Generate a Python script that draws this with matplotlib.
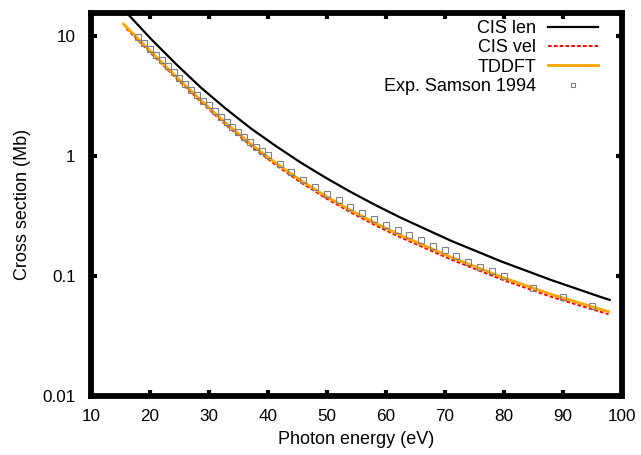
import numpy as np
import matplotlib
matplotlib.use("Agg")
import matplotlib.pyplot as plt

plt.rcParams['font.family'] = ['Liberation Sans', 'DejaVu Sans']

# CIS len (black)
e_len = [16.4, 20.1, 24.4, 28.6, 32.9, 37.1, 41.4, 45.6, 49.9, 54.1, 58.4, 62.6, 71.1, 79.6, 88.1, 96.6, 98.0]
s_len = [14.95, 9.53, 5.85, 3.73, 2.47, 1.70, 1.206, 0.880, 0.655, 0.500, 0.3865, 0.305, 0.1963, 0.1322, 0.0924, 0.0665, 0.0632]

# CIS vel (red dashed)
e_vel = [16.0, 20.1, 24.4, 28.6, 32.9, 37.1, 41.4, 45.6, 49.9, 54.1, 58.4, 62.6, 71.1, 79.6, 88.1, 96.6, 97.8]
s_vel = [11.55, 7.24, 4.48, 2.84, 1.815, 1.218, 0.8386, 0.602, 0.443, 0.338, 0.2619, 0.2087, 0.1372, 0.0938, 0.0670, 0.0500, 0.0481]

# TDDFT (orange)
e_tddft = [15.5, 20.1, 24.4, 28.6, 32.9, 37.1, 41.4, 45.6, 49.9, 54.1, 58.4, 62.6, 71.1, 79.6, 88.1, 96.6, 97.8]
s_tddft = [12.59, 7.455, 4.611, 2.927, 1.875, 1.261, 0.870, 0.626, 0.4607, 0.3514, 0.2730, 0.2175, 0.1433, 0.0982, 0.0702, 0.0525, 0.0505]

# Exp. Samson 1994
e_exp = [18, 19, 20, 21, 22, 23, 24, 25, 26, 27, 28, 29, 30, 31, 32, 33, 34, 35, 36, 37, 38, 39,
         40, 42, 44, 46, 48, 50, 52, 54, 56, 58, 60, 62, 64, 66, 68, 70, 72, 74, 76, 78, 80,
         85, 90, 95]
s_exp = [9.79, 8.75, 7.81, 6.99, 6.25, 5.58, 4.98, 4.47, 4.00, 3.58, 3.21, 2.88, 2.64, 2.38, 2.13,
         1.92, 1.75, 1.58, 1.44, 1.305, 1.197, 1.098,
         1.025, 0.863, 0.731, 0.635, 0.551, 0.486, 0.428, 0.379, 0.336, 0.301, 0.266, 0.242,
         0.2175, 0.1988, 0.177, 0.164, 0.1463, 0.1305, 0.1195, 0.1098, 0.0998,
         0.080, 0.0664, 0.0562]

fig = plt.figure(figsize=(6.41, 4.55), dpi=100)
ax = fig.add_axes([0.142, 0.1297, 0.8276, 0.8418])

ax.plot(e_len, s_len, color='black', lw=1.6, label='CIS len')
ax.plot(e_vel, s_vel, color='red', lw=1.4, dashes=(1.9, 1.1), label='CIS vel')
ax.plot(e_tddft, s_tddft, color='#ffa500', lw=2.0, label='TDDFT')
ax.plot(e_exp, s_exp, ls='none', marker='s', ms=5, mfc='none', mec='#808080',
        mew=0.8, label='Exp. Samson 1994')

ax.set_yscale('log')
ax.set_xlim(10, 100)
ax.set_ylim(0.01, 15.55)
ax.set_xticks(np.arange(10, 101, 10))
ax.set_yticks([0.01, 0.1, 1, 10])
ax.set_yticklabels(['0.01', '0.1', '1', '10'])
ax.yaxis.set_minor_locator(matplotlib.ticker.NullLocator())
ax.tick_params(direction='in', length=4.5, width=3, top=True, right=True,
               labelsize=12.3, colors='black')
ax.tick_params(axis='x', pad=9.5)
ax.tick_params(axis='y', pad=11)
for sp in ax.spines.values():
    sp.set_linewidth(4.2)

ax.set_xlabel('Photon energy (eV)', fontsize=13, labelpad=5)
ax.set_ylabel('Cross section (Mb)', fontsize=13, labelpad=8)

leg = ax.legend(loc='upper right', bbox_to_anchor=(0.9557, 0.982), frameon=False,
                markerfirst=False, fontsize=13, handlelength=2.77, labelspacing=0.13,
                borderaxespad=0, borderpad=0, handletextpad=0.66, markerscale=0.6)

fig.savefig('out.png', dpi=100)
